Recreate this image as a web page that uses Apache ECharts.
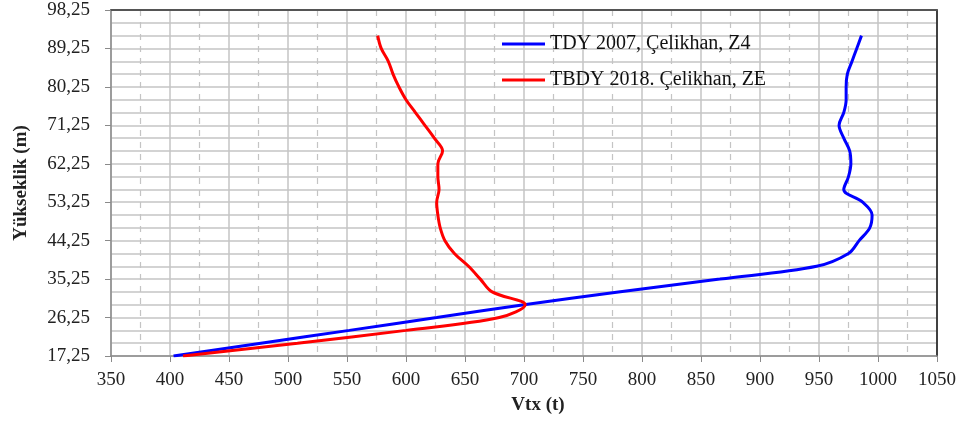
<!DOCTYPE html>
<html>
<head>
<meta charset="utf-8">
<script src="https://cdn.jsdelivr.net/npm/echarts@6/dist/echarts.min.js"></script>
<style>
html, body { margin: 0; padding: 0; background: #fff; }
#chart { width: 972px; height: 425px; }
</style>
</head>
<body>
<div id="chart"></div>
<script>
// heights (m) of the storey levels
const heights = [17.25, 20.25, 23.25, 26.25, 29.25, 32.25, 35.25, 38.25, 41.25, 44.25, 47.25, 50.25, 53.25,
  56.25, 59.25, 62.25, 65.25, 68.25, 71.25, 74.25, 77.25, 80.25, 83.25, 86.25, 89.25, 92.25];

// Vtx (t) values
const tdy2007 = [403, 477, 552, 626, 700, 780, 866, 948, 975, 984, 993, 995, 987,
  971, 975, 977, 976, 971, 967, 971, 973, 973, 974, 978, 982, 986];
const tbdy2018 = [411, 508, 600, 679, 701, 673, 663, 653, 641, 633, 629, 627, 626,
  628, 627, 627, 631, 624, 616, 608, 600, 594, 589, 585, 579, 576];

const yLabelTicks = [17.25, 26.25, 35.25, 44.25, 53.25, 62.25, 71.25, 80.25, 89.25, 98.25];
const yGridTicks = [17.25, 20.25, 23.25, 26.25, 29.25, 32.25, 35.25, 38.25, 41.25, 44.25, 47.25, 50.25, 53.25,
  56.25, 59.25, 62.25, 65.25, 68.25, 71.25, 74.25, 77.25, 80.25, 83.25, 86.25, 89.25, 92.25, 95.25, 98.25];

const serif = "'Liberation Serif', 'DejaVu Serif', serif";
const gridGray = '#c4c4c4';
const axisGray = '#8a8a8a';

const chart = echarts.init(document.getElementById('chart'));

chart.setOption({
  backgroundColor: '#fff',
  animation: false,
  grid: { left: 111, right: 35, top: 10, bottom: 69 },
  legend: {
    orient: 'vertical',
    left: 502,
    top: 34,
    padding: 0,
    icon: 'rect',
    itemWidth: 43,
    itemHeight: 3,
    itemGap: 16,
    textStyle: { fontFamily: serif, fontSize: 20, color: '#111', padding: [0, 0, 0, 0] },
    data: ['TDY 2007, Çelikhan, Z4', 'TBDY 2018. Çelikhan, ZE']
  },
  xAxis: [
    {
      type: 'value',
      min: 350,
      max: 1050,
      interval: 50,
      name: 'Vtx (t)',
      nameLocation: 'middle',
      nameGap: 40,
      nameTextStyle: { fontFamily: serif, fontSize: 19, fontWeight: 'bold', color: '#222', padding: [0, 0, 0, 28] },
      axisLine: { lineStyle: { color: axisGray, width: 1.5 } },
      axisTick: { show: true, inside: false, length: 6, lineStyle: { color: axisGray } },
      axisLabel: { fontFamily: serif, fontSize: 19, color: '#222', margin: 15, formatter: v => String(v) },
      splitLine: { show: true, lineStyle: { color: gridGray, width: 1.5 } },
      minorTick: { show: false, splitNumber: 2 },
      minorSplitLine: { show: true, lineStyle: { color: gridGray, width: 1.2, type: [6, 6] } }
    },
    {
      type: 'value',
      position: 'top',
      min: 350,
      max: 1050,
      axisLine: { show: true, lineStyle: { color: '#555', width: 2 } },
      axisTick: { show: false },
      axisLabel: { show: false },
      splitLine: { show: false }
    }
  ],
  yAxis: [
    {
      type: 'value',
      min: 17.25,
      max: 98.25,
      name: 'Yükseklik (m)',
      nameLocation: 'middle',
      nameGap: 80,
      nameTextStyle: { fontFamily: serif, fontSize: 19, fontWeight: 'bold', color: '#222' },
      axisLine: { show: true, lineStyle: { color: axisGray, width: 1.5 } },
      axisTick: { show: false, customValues: yGridTicks },
      axisLabel: {
        customValues: yLabelTicks,
        fontFamily: serif,
        fontSize: 19,
        color: '#222',
        margin: 21,
        formatter: v => v.toFixed(2).replace('.', ',')
      },
      splitLine: { show: true, lineStyle: { color: gridGray, width: 1.5 } }
    },
    {
      type: 'value',
      position: 'left',
      min: 17.25,
      max: 98.25,
      axisLine: { show: false },
      axisTick: { show: true, length: 6, customValues: yLabelTicks, lineStyle: { color: axisGray } },
      axisLabel: { show: false },
      splitLine: { show: false }
    },
    {
      type: 'value',
      position: 'right',
      min: 17.25,
      max: 98.25,
      axisLine: { show: true, lineStyle: { color: '#111', width: 1.5 } },
      axisTick: { show: false },
      axisLabel: { show: false },
      splitLine: { show: false }
    }
  ],
  series: [
    {
      name: 'TDY 2007, Çelikhan, Z4',
      type: 'line',
      smooth: 0.35,
      symbol: 'none',
      lineStyle: { color: '#0000ff', width: 3 },
      itemStyle: { color: '#0000ff' },
      data: heights.map((h, i) => [tdy2007[i], h])
    },
    {
      name: 'TBDY 2018. Çelikhan, ZE',
      type: 'line',
      smooth: 0.35,
      symbol: 'none',
      lineStyle: { color: '#ff0000', width: 3 },
      itemStyle: { color: '#ff0000' },
      data: heights.map((h, i) => [tbdy2018[i], h])
    }
  ]
});
</script>
</body>
</html>
